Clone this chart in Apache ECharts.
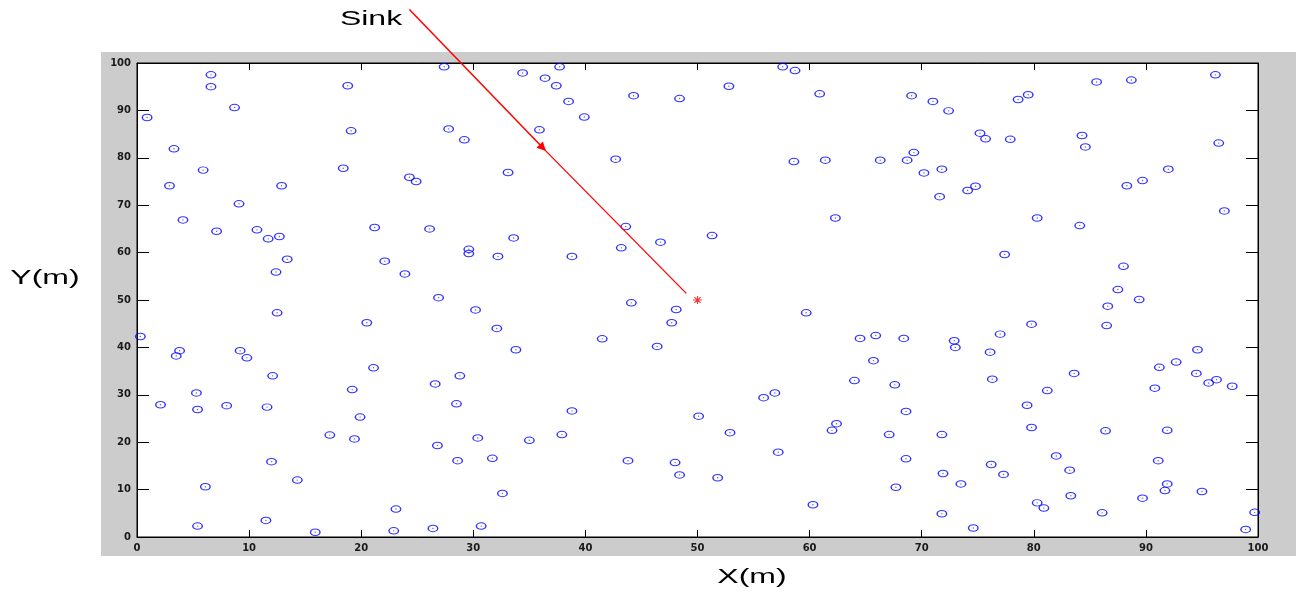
<!DOCTYPE html>
<html>
<head>
<meta charset="utf-8">
<script src="https://cdn.jsdelivr.net/npm/echarts@6/dist/echarts.min.js"></script>
<style>
  html, body { margin: 0; padding: 0; background: #fff; }
  #chartmain { width: 1296px; height: 595px; }
</style>
</head>
<body>
<div id="chartmain"></div>
<script>
  // 节点坐标 (m)
  var nodeX = [
    0.9, 6.6, 6.6, 8.7, 3.3, 5.9, 2.9, 12.9, 9.1, 4.1, 7.1, 10.7, 11.7, 12.7, 13.4, 12.4, 18.8, 19.1, 18.4, 24.3, 24.9, 21.2, 22.1, 23.9,
    27.4, 34.4, 37.7, 36.4, 37.4, 44.3, 48.4, 38.5, 39.9, 27.8, 35.9, 29.2, 42.7, 33.1, 26.1, 33.6, 43.6, 29.6, 29.6, 32.2, 38.8, 43.2, 46.7, 26.9, 44.1,
    57.6, 58.7, 52.8, 60.9, 69.1, 71.0, 72.4, 69.3, 58.6, 61.4, 66.3, 68.7, 70.2, 71.8, 71.6, 74.1, 74.8, 62.3, 51.3,
    96.2, 85.6, 88.7, 78.6, 79.5, 75.2, 75.7, 77.9, 84.3, 84.6, 96.5, 92.0, 89.7, 88.3, 97.0, 80.3, 84.1, 77.4, 88.0, 87.5, 89.4,
    12.5, 0.3, 20.5, 3.8, 3.5, 9.2, 9.8, 12.1, 21.1, 5.3, 5.4, 2.1, 8.0, 11.6, 19.2, 19.9, 17.2, 19.4, 12.0, 14.3, 6.1, 23.1, 5.4, 11.5, 15.9, 22.9,
    30.2, 48.1, 47.7, 32.1, 41.5, 46.4, 33.8, 28.8, 26.6, 28.5, 38.8, 37.9, 35.0, 30.4, 26.8, 28.6, 31.7, 43.8, 48.0, 48.4, 32.6, 26.4, 30.7,
    59.7, 64.5, 65.9, 68.4, 72.9, 73.0, 65.7, 64.0, 67.6, 55.9, 56.9, 50.1, 68.6, 62.4, 62.0, 52.9, 67.1, 71.8, 57.2, 68.6, 71.9, 73.5, 51.8, 67.7, 60.3, 71.8, 74.6,
    86.6, 86.5, 79.8, 77.0, 76.1, 76.3, 81.2, 83.6, 79.4, 79.8, 86.4, 91.9, 94.6, 92.7, 91.2, 94.5, 90.8, 95.6, 96.3, 97.7, 91.1, 82.0, 83.2, 76.2, 77.3, 91.9, 91.7, 95.0, 83.3, 89.7, 80.3, 80.9, 86.1, 99.7, 98.9
  ];
  var nodeY = [
    88.5, 97.5, 95.0, 90.6, 81.9, 77.4, 74.1, 74.1, 70.3, 66.9, 64.5, 64.8, 62.9, 63.4, 58.6, 55.9, 95.2, 85.7, 77.8, 75.9, 75.0, 65.3, 58.2, 55.5,
    99.2, 97.9, 99.2, 96.8, 95.2, 93.1, 92.5, 91.9, 88.6, 86.1, 85.9, 83.8, 79.7, 76.9, 65.0, 63.1, 65.5, 60.7, 59.8, 59.2, 59.2, 61.0, 62.2, 50.5, 49.4,
    99.2, 98.4, 95.1, 93.5, 93.1, 91.9, 89.9, 81.1, 79.2, 79.5, 79.5, 79.5, 76.8, 77.6, 71.8, 73.1, 74.0, 67.3, 63.6,
    97.5, 96.0, 96.4, 92.3, 93.3, 85.2, 84.0, 83.9, 84.7, 82.3, 83.1, 77.6, 75.2, 74.1, 68.8, 67.3, 65.7, 59.6, 57.1, 52.2, 50.1,
    47.3, 42.3, 45.2, 39.3, 38.2, 39.3, 37.8, 34.0, 35.7, 30.4, 26.9, 27.9, 27.7, 27.4, 31.1, 25.3, 21.5, 20.7, 15.9, 12.0, 10.6, 5.9, 2.3, 3.5, 1.0, 1.3,
    47.9, 48.0, 45.2, 44.0, 41.8, 40.2, 39.5, 34.0, 32.3, 28.1, 26.6, 21.6, 20.4, 20.9, 19.3, 16.1, 16.6, 16.1, 15.7, 13.1, 9.2, 1.8, 2.3,
    47.3, 41.9, 42.5, 41.9, 41.4, 40.0, 37.2, 33.0, 32.1, 29.4, 30.4, 25.5, 26.5, 23.9, 22.5, 22.0, 21.6, 21.6, 17.9, 16.5, 13.4, 11.2, 12.5, 10.5, 6.8, 4.9, 1.9,
    48.7, 44.6, 44.9, 42.8, 39.0, 33.3, 30.9, 34.5, 27.8, 23.1, 22.4, 22.5, 39.5, 36.9, 35.8, 34.5, 31.4, 32.5, 33.2, 31.8, 16.1, 17.1, 14.1, 15.3, 13.2, 11.2, 9.8, 9.6, 8.7, 8.2, 7.2, 6.1, 5.1, 5.2, 1.6
  ];
  // Sink 位置和标注箭头
  var sinkPos = [50, 50];
  var arrowTail = [24.3, 111.3];
  var arrowHead = [36.2, 82.1];
  var arrowEnd = [49.0, 51.4];

  var nodes = [];
  for (var i = 0; i < nodeX.length; i++) {
    nodes.push([nodeX[i], nodeY[i]]);
  }

  var tickFont = { color: '#1a1a1a', fontFamily: 'DejaVu Sans', fontWeight: 'bold', fontSize: 10 };
  var axisLine = { show: true, onZero: false, lineStyle: { color: '#000', width: 1 } };

  var myChart = echarts.init(document.getElementById('chartmain'));
  var option = {
    animation: false,
    backgroundColor: '#fff',
    graphic: [
      { type: 'rect', z: -10, shape: { x: 101, y: 52, width: 1195, height: 504 }, style: { fill: '#cccccc' } },
      { type: 'text', x: 371, y: 19, scaleX: 1.6, style: { text: 'Sink', fontFamily: 'Liberation Sans', fontSize: 20, fill: '#000', textAlign: 'center', textVerticalAlign: 'middle' } },
      { type: 'text', x: 752, y: 577, scaleX: 1.6, style: { text: 'X(m)', fontFamily: 'Liberation Sans', fontSize: 20, fill: '#000', textAlign: 'center', textVerticalAlign: 'middle' } },
      { type: 'text', x: 45, y: 278, scaleX: 1.6, style: { text: 'Y(m)', fontFamily: 'Liberation Sans', fontSize: 20, fill: '#000', textAlign: 'center', textVerticalAlign: 'middle' } }
    ],
    grid: {
      left: 137, right: 38, top: 63, bottom: 58,
      show: true, backgroundColor: '#fff', borderColor: '#000', borderWidth: 1
    },
    xAxis: [{
      type: 'value', min: 0, max: 100, interval: 10, position: 'bottom',
      axisLine: axisLine,
      axisTick: { show: true, inside: true, length: 7, lineStyle: { color: '#000' } },
      axisLabel: Object.assign({ margin: 6, showMinLabel: true, showMaxLabel: true }, tickFont),
      splitLine: { show: false }
    }, {
      type: 'value', min: 0, max: 100, interval: 10, position: 'top',
      axisLine: axisLine,
      axisTick: { show: true, inside: true, length: 7, lineStyle: { color: '#000' } },
      axisLabel: { show: false },
      splitLine: { show: false }
    }],
    yAxis: [{
      type: 'value', min: 0, max: 100, interval: 10, position: 'left',
      axisLine: axisLine,
      axisTick: { show: true, inside: true, length: 12, lineStyle: { color: '#000' } },
      axisLabel: Object.assign({ margin: 6, showMinLabel: true, showMaxLabel: true }, tickFont),
      splitLine: { show: false }
    }, {
      type: 'value', min: 0, max: 100, interval: 10, position: 'right',
      axisLine: axisLine,
      axisTick: { show: true, inside: true, length: 12, lineStyle: { color: '#000' } },
      axisLabel: { show: false },
      splitLine: { show: false }
    }],
    series: [{
      name: '节点',
      type: 'scatter',
      data: nodes,
      symbol: 'circle',
      symbolSize: [9.5, 6.5],
      itemStyle: { color: 'rgba(0,0,0,0)', borderColor: '#0000ff', borderWidth: 1.2 },
      z: 3
    }, {
      name: '节点中心',
      type: 'scatter',
      data: nodes,
      symbol: 'circle',
      symbolSize: 1.4,
      itemStyle: { color: '#3030ff' },
      z: 3
    }, {
      name: '箭头',
      type: 'lines',
      coordinateSystem: 'cartesian2d',
      clip: false,
      symbol: ['none', 'triangle'],
      symbolSize: 9,
      lineStyle: { color: '#ff0000', width: 1.5, opacity: 1, curveness: 0 },
      data: [{ coords: [arrowTail, arrowHead] }],
      z: 4
    }, {
      name: '箭头2',
      type: 'lines',
      coordinateSystem: 'cartesian2d',
      clip: false,
      symbol: ['none', 'none'],
      lineStyle: { color: '#ff0000', width: 1.3, opacity: 1, curveness: 0 },
      data: [{ coords: [arrowHead, arrowEnd] }],
      z: 4
    }, {
      name: 'Sink',
      type: 'scatter',
      data: [sinkPos],
      symbol: 'path://M5,0L5,10M0,5L10,5M1.5,1.5L8.5,8.5M1.5,8.5L8.5,1.5',
      symbolSize: [9, 8],
      itemStyle: { color: 'none', borderColor: '#ff0000', borderWidth: 1 },
      z: 5
    }]
  };
  myChart.setOption(option);
</script>
</body>
</html>
